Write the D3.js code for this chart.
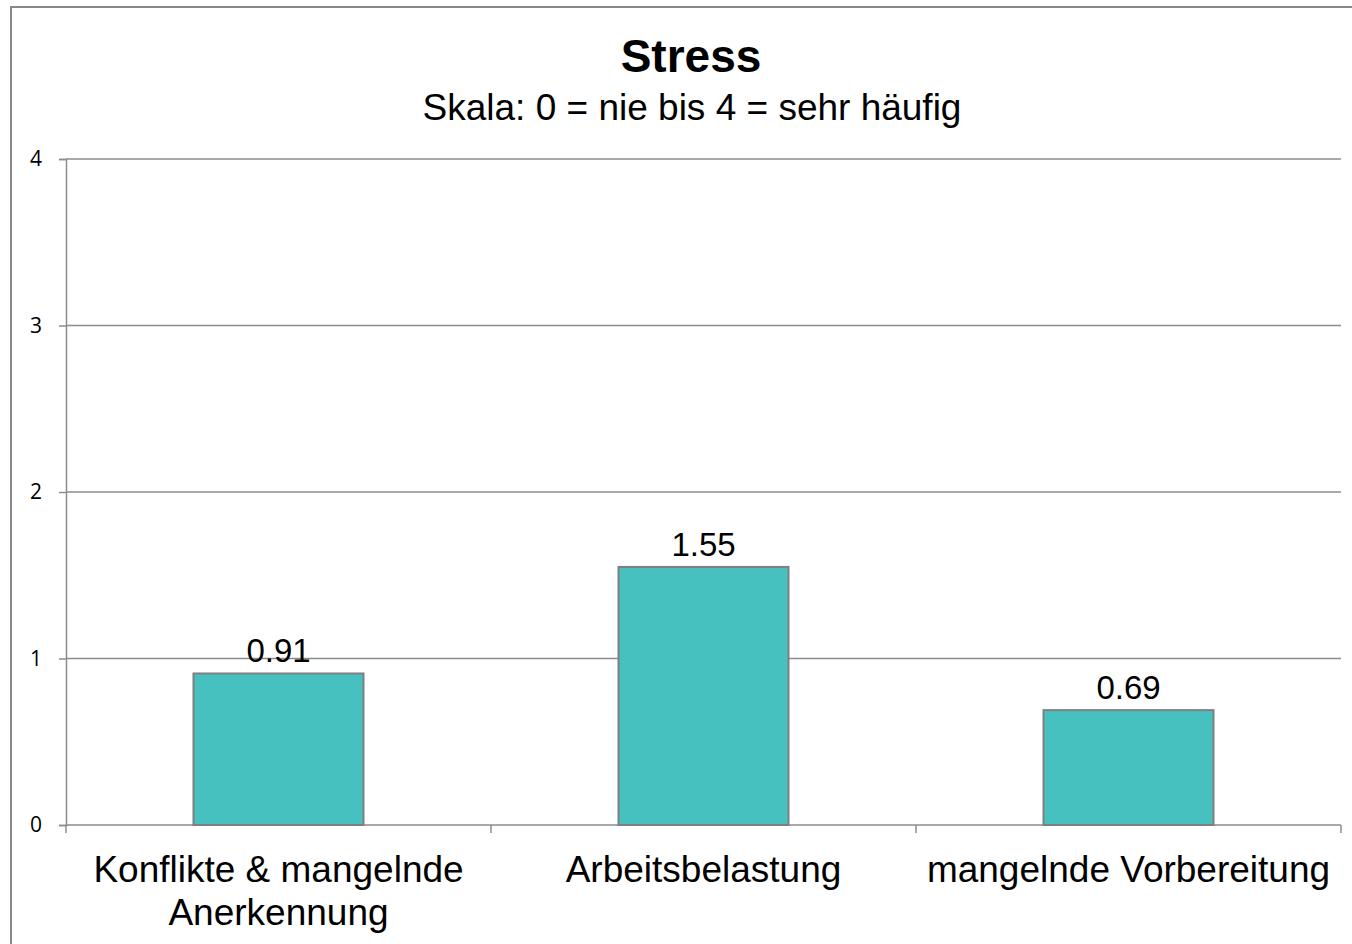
<!DOCTYPE html>
<html>
<head>
<meta charset="utf-8">
<script src="https://cdn.jsdelivr.net/npm/d3@7"></script>
<style>
  html, body { margin: 0; padding: 0; background: #fff; }
  svg { display: block; }
</style>
</head>
<body>
<svg class="chart"></svg>
<script>
// chart data
const categories = [ [ 'Konflikte & mangelnde', 'Anerkennung' ], [ 'Arbeitsbelastung' ], [ 'mangelnde Vorbereitung' ] ]
const values = [ 0.91, 1.55, 0.69 ]
const yTicks = [ 0, 1, 2, 3, 4 ]
const title = 'Stress'
const subtitle = 'Skala: 0 = nie bis 4 = sehr häufig'

const width = 1352
const height = 944

const svg = d3.select('.chart')
    .attr('width', width)
    .attr('height', height)

// outer frame (runs off the right and bottom edge)
svg.append('rect')
    .attr('x', 11).attr('y', 7)
    .attr('width', width).attr('height', height)
    .attr('fill', 'none')
    .attr('stroke', '#888')
    .attr('stroke-width', 2)

const m = { left: 66, right: 1341, top: 159, bottom: 825 }

const x = d3.scaleBand()
    .domain(d3.range(categories.length))
    .range([ m.left, m.right ])
    .paddingInner(0.6)
    .paddingOuter(0.3)

const xOuter = d3.scaleBand()
    .domain(d3.range(categories.length))
    .range([ m.left, m.right ])

const y = d3.scaleLinear()
    .domain([ 0, 4 ])
    .range([ m.bottom, m.top ])

// gridlines
svg.append('g')
    .selectAll('line')
    .data(yTicks)
    .join('line')
    .attr('x1', m.left).attr('x2', m.right)
    .attr('y1', d => y(d)).attr('y2', d => y(d))
    .attr('stroke', '#8c8c8c')
    .attr('stroke-width', 1.5)

// y axis
const yAxis = svg.append('g')
    .attr('transform', `translate(${m.left},0)`)
    .call(d3.axisLeft(y).tickValues(yTicks).tickSize(7).tickPadding(17).tickFormat(d3.format('d')))
yAxis.select('.domain').attr('stroke', '#8c8c8c').attr('stroke-width', 1.5)
yAxis.selectAll('.tick line').attr('stroke', '#8c8c8c').attr('stroke-width', 1.5)
yAxis.selectAll('.tick text')
    .attr('fill', '#000')
    .style('font-family', '"Open Sans", sans-serif')
    .style('font-size', '21px')

// x axis ticks at category boundaries
const bounds = d3.range(categories.length + 1).map(i => i < categories.length ? xOuter(i) : m.right)
svg.append('g')
    .selectAll('line')
    .data(bounds)
    .join('line')
    .attr('x1', d => d).attr('x2', d => d)
    .attr('y1', m.bottom).attr('y2', m.bottom + 8)
    .attr('stroke', '#8c8c8c')
    .attr('stroke-width', 1.5)

// bars
svg.append('g')
    .selectAll('rect')
    .data(values)
    .join('rect')
    .attr('x', (d, i) => x(i))
    .attr('y', d => y(d))
    .attr('width', x.bandwidth())
    .attr('height', d => y(0) - y(d))
    .attr('fill', '#46c1c0')
    .attr('stroke', '#7f7f7f')
    .attr('stroke-width', 2)

// value labels
svg.append('g')
    .selectAll('text')
    .data(values)
    .join('text')
    .attr('x', (d, i) => x(i) + x.bandwidth() / 2)
    .attr('y', d => y(d) - 11)
    .attr('text-anchor', 'middle')
    .style('font-family', '"Liberation Sans", Arial, sans-serif')
    .style('font-size', '33px')
    .text(d => d3.format('.2f')(d))

// category labels
svg.append('g')
    .selectAll('text')
    .data(categories)
    .join('text')
    .attr('text-anchor', 'middle')
    .style('font-family', '"Liberation Sans", Arial, sans-serif')
    .style('font-size', '37px')
    .each(function(d, i) {
        const t = d3.select(this)
        d.forEach((line, j) => {
            t.append('tspan')
                .attr('x', xOuter(i) + xOuter.bandwidth() / 2)
                .attr('y', 882 + j * 43)
                .text(line)
        })
    })

// title
svg.append('text')
    .attr('x', 691).attr('y', 72)
    .attr('text-anchor', 'middle')
    .style('font-family', '"Liberation Sans", Arial, sans-serif')
    .style('font-size', '46px')
    .style('font-weight', 'bold')
    .text(title)

svg.append('text')
    .attr('x', 692).attr('y', 120)
    .attr('text-anchor', 'middle')
    .style('font-family', '"Liberation Sans", Arial, sans-serif')
    .style('font-size', '37px')
    .text(subtitle)
</script>
</body>
</html>
